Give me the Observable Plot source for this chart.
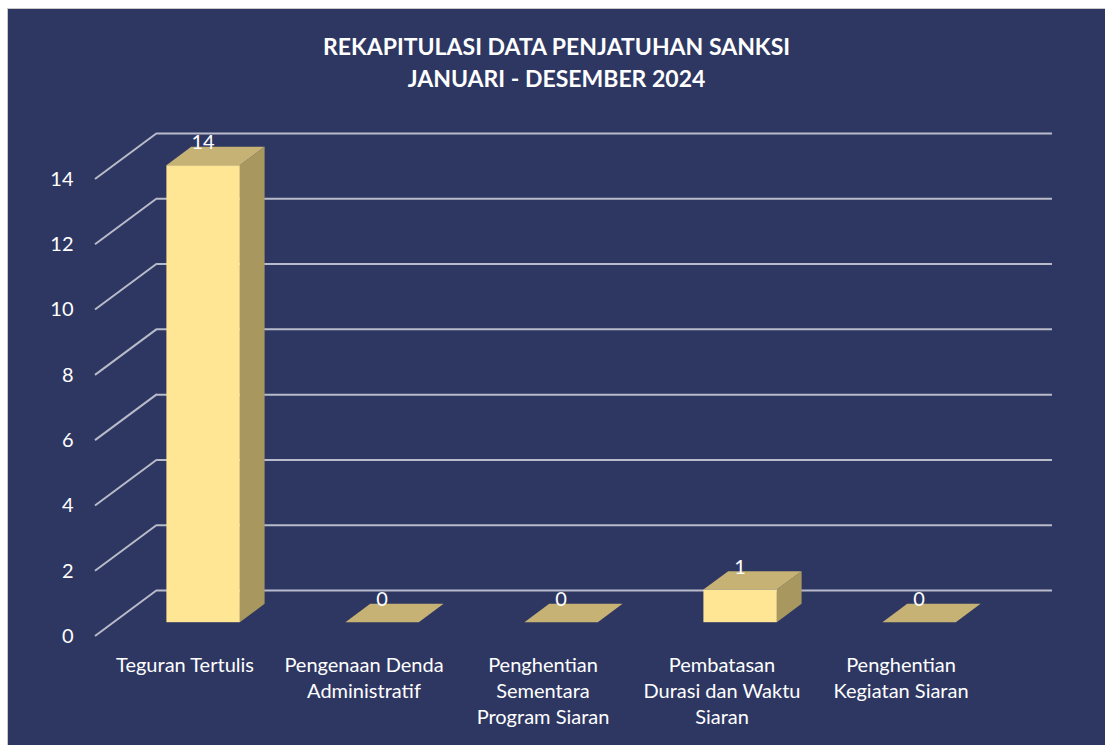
<!DOCTYPE html>
<html><head><meta charset="utf-8">
<script src="https://cdn.jsdelivr.net/npm/d3@7"></script>
<script src="https://cdn.jsdelivr.net/npm/@observablehq/plot@0.6"></script>
<style>
html,body{margin:0;padding:0;background:#fff;}
#frame{position:absolute;left:7px;top:8px;width:1097px;height:736px;background:#2E3762;border-left:1px solid #c8c8c8;border-top:1px solid #c8c8c8;}
#title{height:100px;box-sizing:border-box;padding-top:21px;text-align:center;color:#fff;font-family:Lato,sans-serif;font-weight:bold;font-size:23px;line-height:32px;}
#chart svg{display:block;}
</style></head>
<body><div id="frame"><div id="title"></div><div id="chart"></div></div>
<script>
const titleLines = ["REKAPITULASI DATA PENJATUHAN SANKSI", "JANUARI - DESEMBER 2024"];
const categories = ["Teguran Tertulis", "Pengenaan Denda Administratif", "Penghentian Sementara Program Siaran", "Pembatasan Durasi dan Waktu Siaran", "Penghentian Kegiatan Siaran"];
const categoryLines = [["Teguran Tertulis"], ["Pengenaan Denda", "Administratif"], ["Penghentian", "Sementara", "Program Siaran"], ["Pembatasan", "Durasi dan Waktu", "Siaran"], ["Penghentian", "Kegiatan Siaran"]];
const values = [14, 0, 0, 1, 0];
const yTicks = [0, 2, 4, 6, 8, 10, 12, 14];

document.getElementById("title").innerHTML = titleLines.join("<br>");

const data = categories.map((c, i) => ({cat: c, value: values[i], label: categoryLines[i].join("\n")}));

// depth of the floor (back plane -> front plane), in pixels
const DX = -62, DY = 46;
const FRONT_T = 0.7, BACK_T = 0.3, BAR_W = 0.41;
const gridColor = "#b8bbc9";

function depth3d(index, scales) {
  const {x, y} = scales;
  const g = d3.create("svg:g");
  const bw = x.bandwidth();
  const [r0] = x.range();
  for (const t of yTicks) {
    g.append("line")
      .attr("x1", r0).attr("y1", y(t))
      .attr("x2", r0 + DX).attr("y2", y(t) + DY)
      .attr("stroke", gridColor).attr("stroke-width", 2);
  }
  const ox = (BACK_T - FRONT_T) * DX, oy = (BACK_T - FRONT_T) * DY;
  for (const d of data) {
    const cx = x(d.cat) + bw / 2;
    const w = bw * BAR_W;
    const fx = cx - w / 2 + DX * FRONT_T;
    const fy0 = y(0) + DY * FRONT_T;
    const fy1 = y(d.value) + DY * FRONT_T;
    const pts = a => a.map(p => p.join(",")).join(" ");
    if (fy0 - fy1 > 0.5) {
      g.append("polygon").attr("points", pts([[fx + w, fy1], [fx + w + ox, fy1 + oy], [fx + w + ox, fy0 + oy], [fx + w, fy0]]))
        .attr("fill", "#A8985F");
      g.append("rect").attr("x", fx).attr("y", fy1).attr("width", w).attr("height", fy0 - fy1)
        .attr("fill", "#FFE694");
    }
    g.append("polygon").attr("points", pts([[fx, fy1], [fx + w, fy1], [fx + w + ox, fy1 + oy], [fx + ox, fy1 + oy]]))
      .attr("fill", "#C5B274");
    g.append("text").attr("x", fx + w / 2).attr("y", fy1 - 24)
      .attr("text-anchor", "middle").attr("dominant-baseline", "central")
      .attr("fill", "#fff").attr("font-size", 20).text(d.value);
  }
  return g.node();
}

const chart = Plot.plot({
  width: 1097,
  height: 636,
  marginTop: 24,
  marginBottom: 155,
  marginLeft: 149,
  marginRight: 53,
  style: {background: "transparent", fontFamily: "Lato, sans-serif", color: "#fff"},
  x: {type: "band", domain: categories, padding: 0, axis: null},
  y: {domain: [0, 14], axis: null},
  marks: [
    Plot.ruleY(yTicks, {stroke: gridColor, strokeWidth: 2}),
    Plot.text(yTicks, {y: d => d, frameAnchor: "left", dx: DX - 22, dy: DY, textAnchor: "end", fill: "#fff", fontSize: 20}),
    Plot.text(data, {x: "cat", y: () => 0, text: "label", dx: DX, dy: 63, lineAnchor: "top", lineHeight: 1.3, fill: "#fff", fontSize: 20}),
    depth3d
  ]
});
document.getElementById("chart").append(chart);
</script>
</body></html>
